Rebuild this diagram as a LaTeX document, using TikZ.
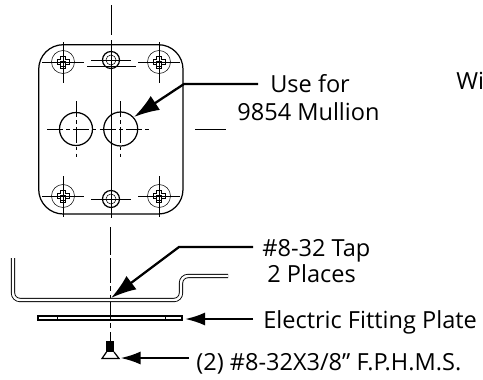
\documentclass[tikz,border=0pt]{standalone}
\usepackage{fontspec}
\setmainfont{Open Sans}
\usepackage{tikz}
\usetikzlibrary{arrows.meta, positioning, calc}

\begin{document}
\begin{tikzpicture}[x=0.02cm, y=-0.02cm,
    part/.style={draw, line width=0.7pt},
    thin part/.style={draw, line width=0.3pt},
    center/.style={draw, line width=0.5pt},
    centerdash/.style={draw, line width=0.5pt, dash pattern=on 9pt off 2pt on 2pt off 2pt},
    leader/.style={draw, line width=1.3pt, -{Latex[length=11.5pt, width=7.5pt]}},
    big leader/.style={draw, line width=1.3pt, -{Latex[length=14.5pt, width=9.5pt]}},
    label/.style={inner sep=0pt, anchor=base west, font=\fontsize{13.4pt}{16pt}\selectfont}
]
    \useasboundingbox (0,0) rectangle (483,379);

    % Center line
    \draw[center] (111,5) -- (111,35);
    \draw[center] (111,40) -- (111,218);
    \draw[center] (110.5,227) -- (110.5,255);
    \draw[center, dash pattern=on 14pt off 2pt on 3pt off 2pt] (110.5,258) -- (110.5,341);

    % Plate outline
    \draw[part, rounded corners=14pt] (38.7,44.7) rectangle (183,214);

    % Corner screw holes
    \foreach \hx/\hy in {63/62, 159/62, 63/196, 159/196} {
        \draw[thin part] (\hx,\hy) circle (11.5);
        \draw[center] (\hx-21,\hy) -- (\hx+21,\hy);
        \draw[center] (\hx,\hy-20) -- (\hx,\hy+21);
        \draw[thin part] (\hx-2.5,\hy-6) -- (\hx+2.5,\hy-6) -- (\hx+2.5,\hy-2.5) -- (\hx+6,\hy-2.5)
            -- (\hx+6,\hy+2.5) -- (\hx+2.5,\hy+2.5) -- (\hx+2.5,\hy+6) -- (\hx-2.5,\hy+6)
            -- (\hx-2.5,\hy+2.5) -- (\hx-6,\hy+2.5) -- (\hx-6,\hy-2.5) -- (\hx-2.5,\hy-2.5) -- cycle;
        \draw[thin part] (\hx-2.5,\hy-1) rectangle (\hx+2.5,\hy+4);
    }

    % Middle tapped holes
    \foreach \hy in {60, 199} {
        \draw[part] (111,\hy) circle (8.5);
        \draw[thin part] (111,\hy) circle (5);
        \draw[center] (91,\hy) -- (131,\hy);
        \draw[center] (111,\hy-4) -- (111,\hy+4);
    }
    \draw[center] (87,66.5) -- (136,66.5);

    % Large holes
    \draw[part] (76,129) circle (16.5);
    \draw[part] (120.7,129) circle (17);
    \draw[centerdash] (47,129) -- (149,129);
    \draw[centerdash] (76,101) -- (76,157);
    \draw[centerdash] (120.7,101) -- (120.7,157);
    \draw[center] (195,129) -- (226,129);

    % Bent bracket, side view
    \draw[line width=0.5pt, double=white, double distance=1.4pt, rounded corners=4pt]
        (13,258) -- (13,300) -- (181,300) -- (181,276) -- (228,276);

    % Fitting plate, side view
    \draw[part] (38,316) rectangle (182,320);
    \draw[thin part] (57,316) -- (57,320);
    \draw[thin part] (165,316) -- (165,320);

    % Screw
    \fill (105.7,341) rectangle (114,352);
    \draw[part] (106.5,352) -- (102,358.5) -- (119,358.5) -- (114,352);

    % Labels
    \node[label] (usefor) at (270,92.7) {Use for};
    \node[label] (mullion) at (237,120) {9854 Mullion};
    \node[label] (wi) at (456,89) {Wi};
    \node[label] (tap) at (262,256.7) {\#8-32 Tap};
    \node[label] (places) at (267,282.7) {2 Places};
    \node[label] (fitting) at (263,328) {Electric Fitting Plate};
    \node[label] (screws) at (196,370) {(2) \#8-32X3/8” F.P.H.M.S.};

    % Targets of the leaders
    \coordinate (holetip) at (134,117);
    \coordinate (taptip) at (111,298);
    \coordinate (platetip) at (185,319);
    \coordinate (screwtip) at (120.5,358);

    % Leaders
    \draw[big leader] (usefor.west |- 0,84) ++(-12,0) -- (184,84) -- (holetip);
    \draw[big leader] (tap.west |- 0,247) ++(-9,0) -- (179,247) -- (taptip);
    \draw[leader] (fitting.west |- platetip) ++(-10,0) -- (platetip);
    \draw[leader] (screws.west |- screwtip) ++(-7,0) -- (screwtip);
\end{tikzpicture}
\end{document}
